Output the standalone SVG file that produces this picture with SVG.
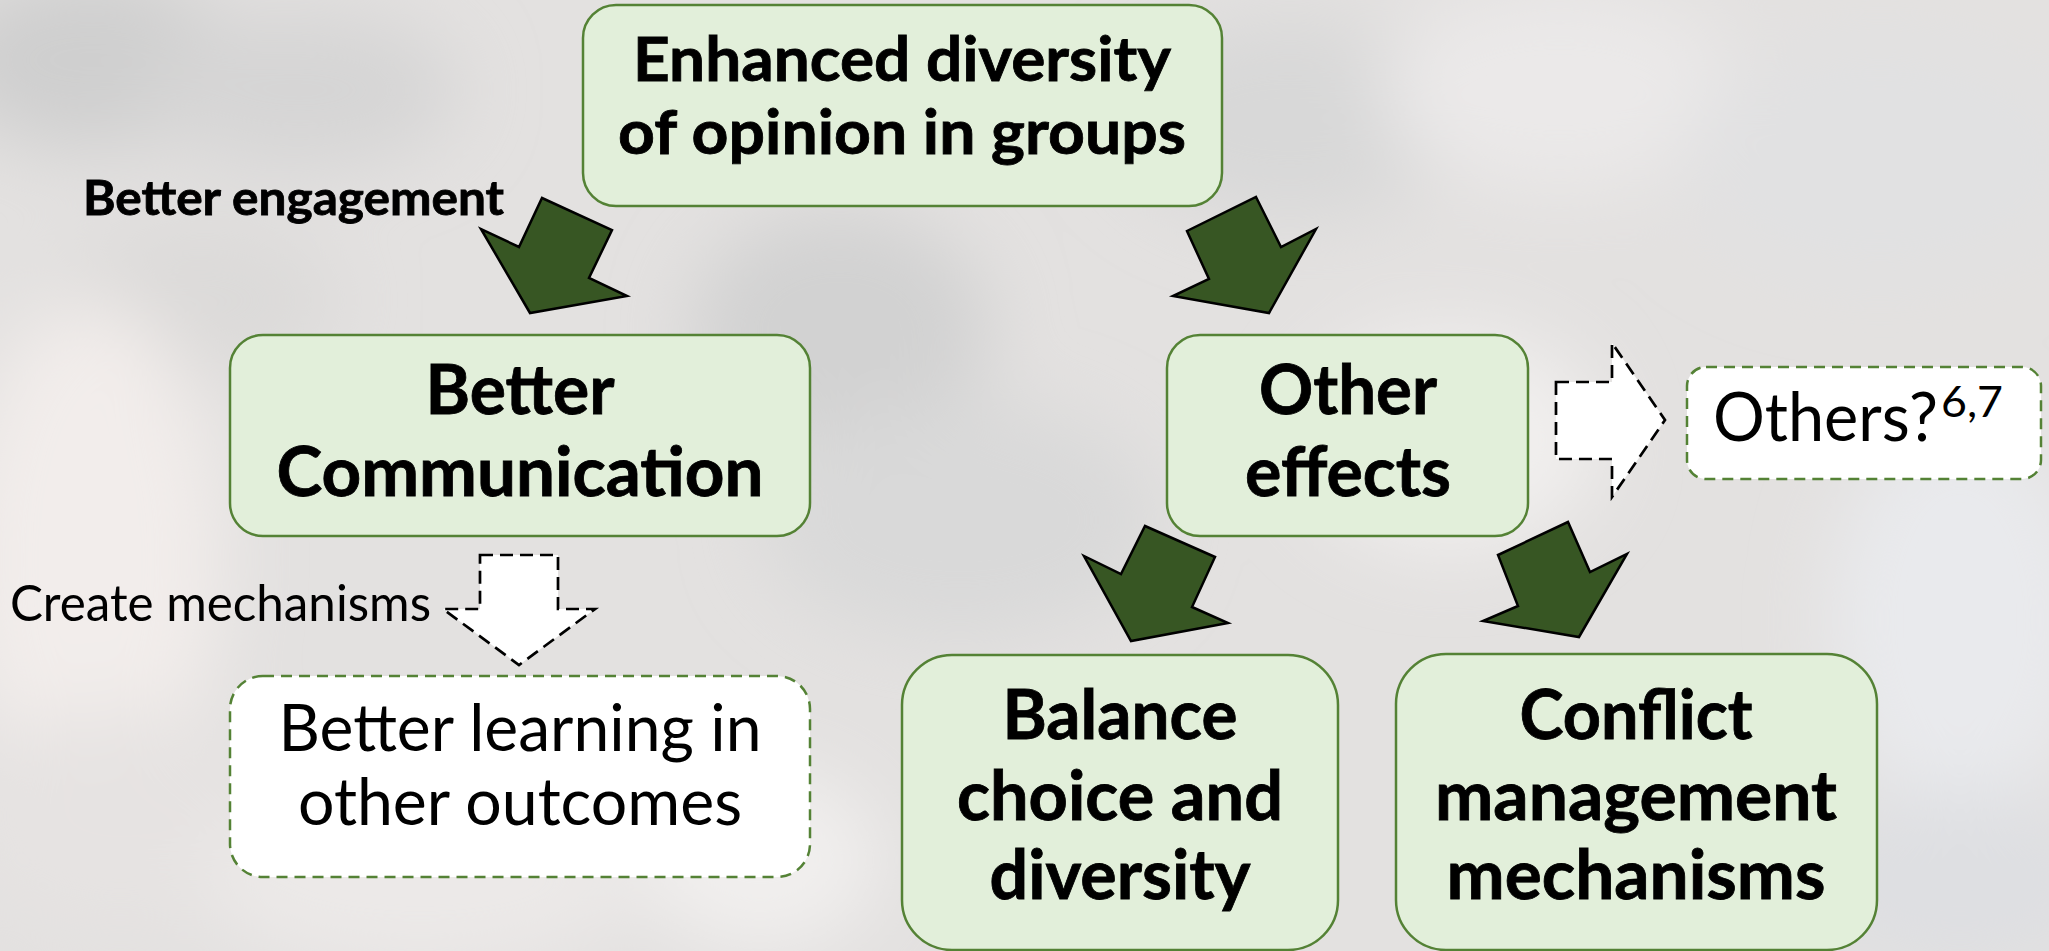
<svg xmlns="http://www.w3.org/2000/svg" width="2049" height="951" viewBox="0 0 2049 951">
  <defs>
    <filter id="soft" x="-30%" y="-30%" width="160%" height="160%">
      <feGaussianBlur stdDeviation="38"/>
    </filter>
    <style>
      .node { fill: #e2efda; stroke: #548235; stroke-width: 2.5; }
      .open { fill: #ffffff; stroke: #548235; stroke-width: 2.5; stroke-dasharray: 11 7; }
      .bold { font-family: Lato, "Open Sans", "Liberation Sans", sans-serif; font-weight: 700; fill: #000; stroke: #000; stroke-width: 0.8; }
      .reg { font-family: Lato, "Open Sans", "Liberation Sans", sans-serif; font-weight: 400; fill: #000; }
      .mid { text-anchor: middle; }
      .flow { fill: #375623; stroke: #000; stroke-width: 2.5; stroke-linejoin: miter; }
      .maybe { fill: #ffffff; stroke: #000; stroke-width: 2.7; stroke-dasharray: 13 7; }
    </style>
  </defs>

  <!-- hazy backdrop: softened crowd tones -->
  <rect x="0" y="0" width="2049" height="951" fill="#e3e1e0"/>
  <g filter="url(#soft)">
    <ellipse cx="90" cy="60" rx="150" ry="90" fill="#cfcfcf"/>
    <ellipse cx="300" cy="90" rx="160" ry="80" fill="#d6d5d5"/>
    <ellipse cx="200" cy="300" rx="140" ry="80" fill="#dcdad9"/>
    <ellipse cx="90" cy="560" rx="130" ry="260" fill="#f2edeb"/>
    <ellipse cx="120" cy="820" rx="160" ry="110" fill="#e6e3e2"/>
    <ellipse cx="420" cy="880" rx="220" ry="90" fill="#ece9e8"/>
    <ellipse cx="840" cy="330" rx="150" ry="120" fill="#d2d2d2"/>
    <ellipse cx="960" cy="520" rx="200" ry="120" fill="#d9d9d9"/>
    <ellipse cx="760" cy="860" rx="120" ry="90" fill="#f1efee"/>
    <ellipse cx="1290" cy="120" rx="170" ry="100" fill="#d8d8d8"/>
    <ellipse cx="1560" cy="90" rx="180" ry="100" fill="#ebe9e9"/>
    <ellipse cx="1880" cy="160" rx="200" ry="120" fill="#e1e1e2"/>
    <ellipse cx="1450" cy="440" rx="150" ry="110" fill="#f1efee"/>
    <ellipse cx="1960" cy="620" rx="130" ry="200" fill="#e9eaed"/>
    <ellipse cx="1960" cy="880" rx="150" ry="90" fill="#dedfe2"/>
  </g>

  <!-- connectors -->
  <g id="connectors">
    <polygon class="flow" points="542,198 612,230 589,278 627,296 530,313 481,229 519,247"/>
    <polygon class="flow" points="1256,197 1281,247 1316,229 1269,313 1173,296 1209,279 1187,231"/>
    <polygon class="flow" points="1145,526 1215,557 1192,607 1228,623 1131,641 1084,556 1121,574"/>
    <polygon class="flow" points="1568,522 1498,555 1518,606 1483,621 1579,637 1627,554 1590,572"/>
    <polygon class="maybe" points="1556,382 1612,382 1612,343 1665,420 1612,497 1612,459 1556,459"/>
    <polygon class="maybe" points="480,555 558,555 558,609 595,609 519,665 443,609 480,609"/>
    <text class="bold" x="83" y="215" font-size="47" textLength="421" lengthAdjust="spacingAndGlyphs">Better engagement</text>
    <text class="reg" x="10" y="621" font-size="50" textLength="421" lengthAdjust="spacingAndGlyphs">Create mechanisms</text>
  </g>

  <g id="diversity">
    <rect class="node" x="583" y="5" width="639" height="201" rx="33"/>
    <text class="bold mid" x="902" y="81" font-size="61" textLength="538" lengthAdjust="spacingAndGlyphs">Enhanced diversity</text>
    <text class="bold mid" x="902" y="154" font-size="61" textLength="568" lengthAdjust="spacingAndGlyphs">of opinion in groups</text>
  </g>

  <g id="communication">
    <rect class="node" x="230" y="335" width="580" height="201" rx="33"/>
    <text class="bold mid" x="520" y="414" font-size="68" textLength="189" lengthAdjust="spacingAndGlyphs">Better</text>
    <text class="bold mid" x="520" y="496" font-size="68" textLength="487" lengthAdjust="spacingAndGlyphs">Communication</text>
  </g>

  <g id="other-effects">
    <rect class="node" x="1167" y="335" width="361" height="201" rx="33"/>
    <text class="bold mid" x="1348" y="414" font-size="68" textLength="178" lengthAdjust="spacingAndGlyphs">Other</text>
    <text class="bold mid" x="1348" y="496" font-size="68" textLength="206" lengthAdjust="spacingAndGlyphs">effects</text>
  </g>

  <g id="others">
    <rect class="open" x="1687" y="367" width="354" height="112" rx="19"/>
    <text class="reg" x="1713" y="441" font-size="67" textLength="225" lengthAdjust="spacingAndGlyphs">Others?</text>
    <text class="reg" x="1941" y="417" font-size="42" textLength="62" lengthAdjust="spacingAndGlyphs">6,7</text>
  </g>

  <g id="learning">
    <rect class="open" x="230" y="676" width="580" height="201" rx="33"/>
    <text class="reg mid" x="520" y="751" font-size="65" textLength="483" lengthAdjust="spacingAndGlyphs">Better learning in</text>
    <text class="reg mid" x="520" y="825" font-size="65" textLength="444" lengthAdjust="spacingAndGlyphs">other outcomes</text>
  </g>

  <g id="balance">
    <rect class="node" x="902" y="655" width="436" height="295" rx="50"/>
    <text class="bold mid" x="1120" y="739" font-size="68" textLength="235" lengthAdjust="spacingAndGlyphs">Balance</text>
    <text class="bold mid" x="1120" y="820" font-size="68" textLength="326" lengthAdjust="spacingAndGlyphs">choice and</text>
    <text class="bold mid" x="1120" y="899" font-size="68" textLength="261" lengthAdjust="spacingAndGlyphs">diversity</text>
  </g>

  <g id="conflict">
    <rect class="node" x="1396" y="654" width="481" height="296" rx="50"/>
    <text class="bold mid" x="1636" y="739" font-size="68" textLength="233" lengthAdjust="spacingAndGlyphs">Conflict</text>
    <text class="bold mid" x="1636" y="820" font-size="68" textLength="402" lengthAdjust="spacingAndGlyphs">management</text>
    <text class="bold mid" x="1636" y="899" font-size="68" textLength="379" lengthAdjust="spacingAndGlyphs">mechanisms</text>
  </g>
</svg>
